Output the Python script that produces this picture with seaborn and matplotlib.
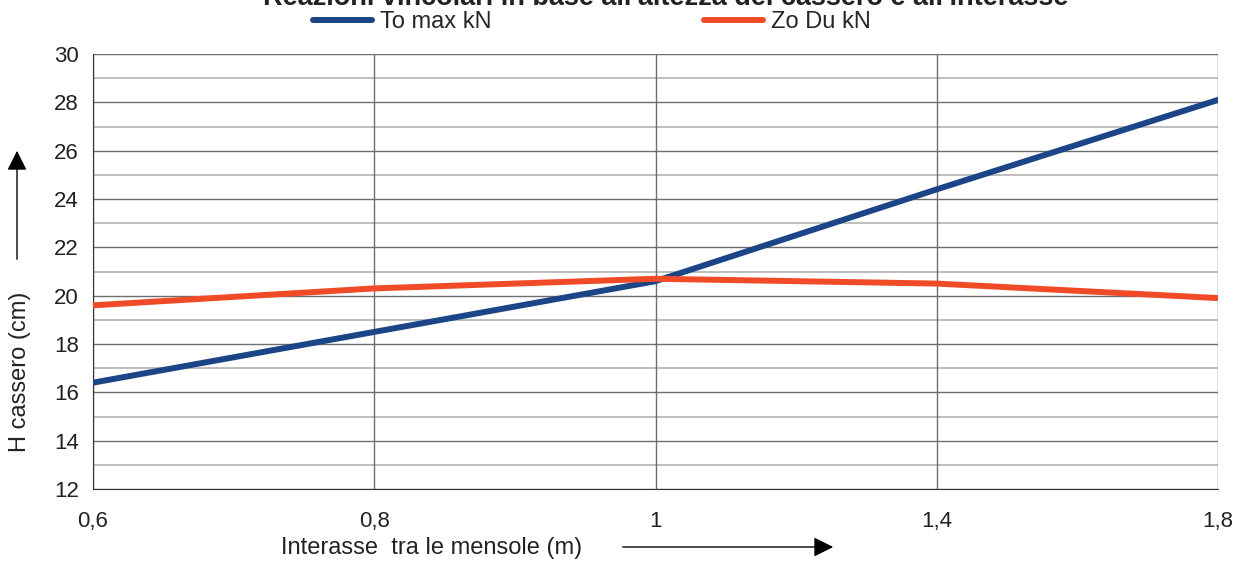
import matplotlib
matplotlib.use("Agg")
import matplotlib.pyplot as plt
from matplotlib.lines import Line2D
import seaborn as sns
import pandas as pd

# dati
interasse = ["0,6", "0,8", "1", "1,4", "1,8"]
to_max = [16.4, 18.5, 20.6, 24.4, 28.1]
zo_du = [19.6, 20.3, 20.7, 20.5, 19.9]
y_ticks = [12, 14, 16, 18, 20, 22, 24, 26, 28, 30]

df = pd.DataFrame({
    "pos": list(range(len(interasse))) * 2,
    "H": to_max + zo_du,
    "serie": ["To max kN"] * len(interasse) + ["Zo Du kN"] * len(interasse),
})
colori = {"To max kN": "#1c4587", "Zo Du kN": "#f04a26"}

sns.set_style("white")
plt.rcParams["font.family"] = ["Liberation Sans", "DejaVu Sans"]

fig = plt.figure(figsize=(12.44, 5.64), dpi=100)
ax = fig.add_axes([93 / 1244, 1 - 489 / 564, 1125 / 1244, 435 / 564])

# griglia
for v in range(13, 30, 2):
    ax.axhline(v, color="#b3b3b3", lw=1.2, zorder=0)
for v in y_ticks:
    ax.axhline(v, color="#6e6e6e", lw=1.0, zorder=0)
for i in range(len(interasse)):
    ax.axvline(i, color="#6e6e6e", lw=1.0, zorder=0)

sns.lineplot(data=df, x="pos", y="H", hue="serie", palette=colori,
             lw=4.3, ax=ax, legend=False, zorder=3)

ax.set_xlim(0, len(interasse) - 1)
ax.set_ylim(12, 30)
ax.set_xticks(range(len(interasse)))
ax.set_xticklabels(interasse)
ax.set_yticks(y_ticks)
ax.set_xlabel("")
ax.set_ylabel("")
for s in ["top", "right"]:
    ax.spines[s].set_visible(False)
ax.spines["left"].set_color("#333333")
ax.spines["bottom"].set_color("#333333")
ax.tick_params(axis="both", labelsize=16, colors="#222222", length=6,
               width=1, direction="out", pad=10)
ax.tick_params(axis="y", pad=4)

# titolo (tagliato in alto come nell'originale)
fig.text(0.535, 1 - 5 / 564, "Reazioni vincolari in base all'altezza del cassero e all'interasse",
         ha="center", va="baseline", fontsize=19.5, fontweight="bold", color="#222222")

# legenda
handles = [Line2D([], [], color=colori[k], lw=4.3) for k in colori]
fig.legend(handles, list(colori), loc="center", ncol=2,
           bbox_to_anchor=(592 / 1244, 1 - 22 / 564), frameon=False, fontsize=17,
           handlelength=2.5, handletextpad=0.35, columnspacing=9.0)

# etichette assi con frecce
fig.text(20 / 1244, 1 - 372 / 564, "H cassero (cm)", rotation=90, ha="center", va="center",
         fontsize=17, color="#222222")
fig.text(432 / 1244, 1 - 548 / 564, "Interasse  tra le mensole (m)", ha="center", va="center",
         fontsize=17, color="#222222")
ax.annotate("", xy=(17 / 1244, 1 - 148 / 564), xytext=(17 / 1244, 1 - 262 / 564),
            xycoords="figure fraction", textcoords="figure fraction",
            arrowprops=dict(arrowstyle="-|>", color="black", lw=1, mutation_scale=30))
ax.annotate("", xy=(836 / 1244, 1 - 547 / 564), xytext=(620 / 1244, 1 - 547 / 564),
            xycoords="figure fraction", textcoords="figure fraction",
            arrowprops=dict(arrowstyle="-|>", color="black", lw=1, mutation_scale=30))

fig.savefig("out.png", dpi=100)
